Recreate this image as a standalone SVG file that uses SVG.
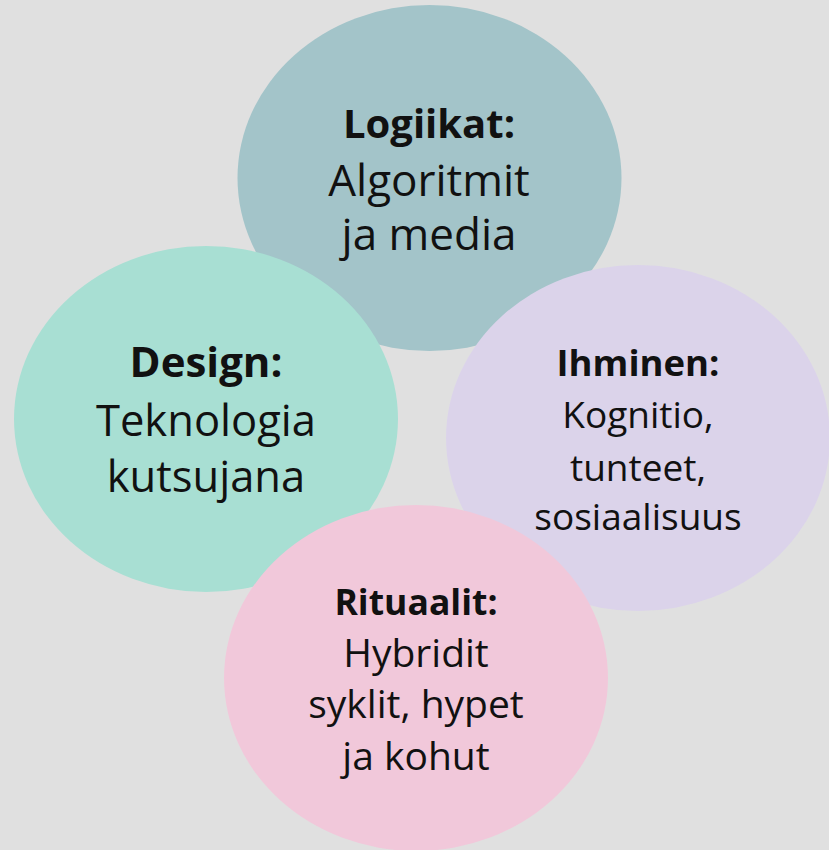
<svg xmlns="http://www.w3.org/2000/svg" width="829" height="850" viewBox="0 0 829 850">
<style>
text{font-family:"Open Sans","Liberation Sans",sans-serif;fill:#111;text-anchor:middle}
.b{font-weight:bold}
#logiikat text{font-size:44px}
#logiikat .b{font-size:40px}
#design text{font-size:43.5px}
#design .b{font-size:42px}
#ihminen text{font-size:37px}
#ihminen .b{font-size:36.5px}
#rituaalit text{font-size:39px}
#rituaalit .b{font-size:35.5px}
</style>
<rect width="829" height="850" fill="#e0e0e0"/>
<g id="logiikat">
<ellipse cx="429.5" cy="178" rx="192" ry="173" fill="#a3c4c9"/>
<text x="429" y="138" class="b">Logiikat:</text>
<text x="429" y="196">Algoritmit</text>
<text x="429" y="250">ja media</text>
</g>
<g id="design">
<ellipse cx="206" cy="419" rx="192" ry="173" fill="#a8dfd3"/>
<text x="206" y="377" class="b">Design:</text>
<text x="206" y="436">Teknologia</text>
<text x="206" y="492">kutsujana</text>
</g>
<g id="ihminen">
<ellipse cx="638" cy="438" rx="192" ry="173" fill="#dbd3ea"/>
<text x="638" y="376" class="b">Ihminen:</text>
<text x="638" y="428">Kognitio,</text>
<text x="638" y="481">tunteet,</text>
<text x="638" y="530">sosiaalisuus</text>
</g>
<g id="rituaalit">
<ellipse cx="416" cy="678" rx="192" ry="173" fill="#f1c8da"/>
<text x="416" y="615" class="b">Rituaalit:</text>
<text x="416" y="667">Hybridit</text>
<text x="416" y="718">syklit, hypet</text>
<text x="416" y="770">ja kohut</text>
</g>
<g id="connectors"/>
</svg>
